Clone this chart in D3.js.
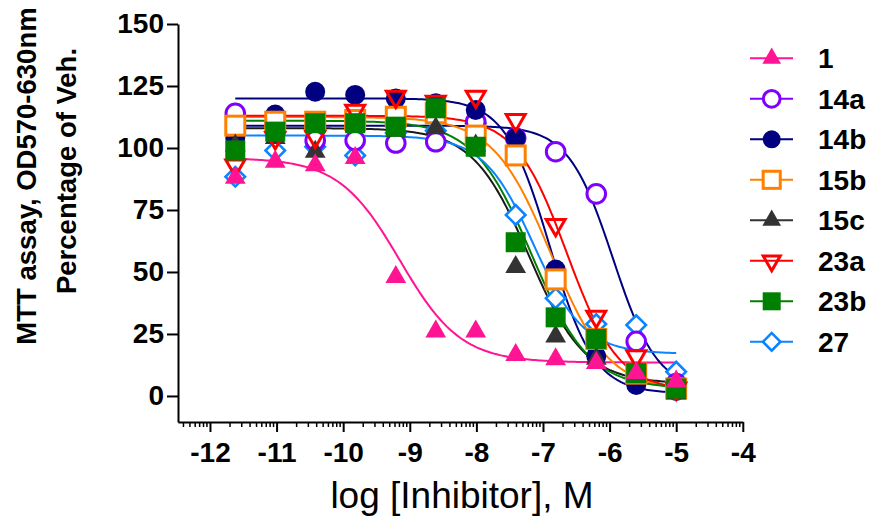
<!DOCTYPE html>
<html>
<head>
<meta charset="utf-8">
<script src="https://cdn.jsdelivr.net/npm/d3@7"></script>
<style>
  body { margin: 0; background: #fff; }
  svg { display: block; }
  text { font-family: "Liberation Sans", Arial, sans-serif; }
</style>
</head>
<body>
<svg id="chart" width="870" height="522"></svg>
<script>
// log10 of inhibitor concentration (M), 4-fold dilution series
const logConc = [-11.62, -11.02, -10.42, -9.82, -9.21, -8.61, -8.01, -7.41, -6.81, -6.20, -5.60, -5.00];

const seriesNames = ["1", "14a", "14b", "15b", "15c", "23a", "23b", "27"];

// MTT signal, percentage of vehicle, per compound
const cmpd1   = [88, 94.5, 93, 96, 48, 26, 26, 16.5, 14.8, 13.3, 9.3, 5.8];
const cmpd14a = [114, 110, 103, 103, 102, 102.5, 110.6, 104, 98.5, 81.5, 22, 5];
const cmpd14b = [104, 113.5, 122.7, 121.4, 120, 118, 115.3, 104, 51, 16, 4.4, 2];
const cmpd15b = [109, 110.6, 110.6, 111.3, 112.6, 114, 105, 97, 47, 23, 9, 3];
const cmpd15c = [101, 104, 98.5, 109, 107, 108, 101, 52, 24, 15, 8, 1];
const cmpd23a = [93, 104, 104.5, 115, 120.7, 118.7, 120.7, 111.3, 69, 32, 16, 3];
const cmpd23b = [99, 106.6, 110, 110, 108.6, 116, 100.5, 62, 31.7, 23, 9.2, 3];
const cmpd27  = [88.4, 99, 100.5, 97, 106, 107, 110, 73, 39.4, 29, 28.6, 9.8];
const seriesValues = [cmpd1, cmpd14a, cmpd14b, cmpd15b, cmpd15c, cmpd23a, cmpd23b, cmpd27];

// four-parameter logistic fits: top, bottom, logIC50, Hill slope
const fitTop     = [96, 109, 120, 112.5, 108, 113, 111, 105];
const fitBottom  = [13.5, 2, 1, 2, 5, 2, 3, 17];
const fitLogIC50 = [-9.15, -5.95, -6.9, -6.88, -7.21, -6.64, -7.17, -7.14];
const fitHill    = [0.95, 1.3, 1.3, 1.0, 1.03, 1.12, 1.0, 1.15];

const xTicks = [-12, -11, -10, -9, -8, -7, -6, -5, -4];
const yTicks = [0, 25, 50, 75, 100, 125, 150];

// styling per compound
const markerColor = ["#ff1493", "#8000ff", "#000080", "#ff8000", "#333333", "#ff0000", "#008000", "#0a84ff"];
const curveColor  = ["#ff1493", "#000080", "#000080", "#ff8000", "#1a1a1a", "#ff0000", "#008000", "#0a84ff"];
const markerKind  = ["triUp", "circleOpen", "circle", "squareOpen", "triUp", "triDownOpen", "square", "diamondOpen"];

const svg = d3.select("#chart");
const x = d3.scaleLinear().domain([-12.48, -4]).range([178, 742.8]);
const y = d3.scaleLinear().domain([-10.5, 150]).range([422, 24]);

// fitted curves
const logistic = (i, lx) => fitBottom[i] + (fitTop[i] - fitBottom[i]) / (1 + Math.pow(10, (lx - fitLogIC50[i]) * fitHill[i]));
const lo = d3.min(logConc), hi = d3.max(logConc);
const samples = d3.range(0, 201).map(k => lo + (hi - lo) * k / 200);
const line = d3.line().x(d => x(d[0])).y(d => y(d[1]));

const curves = svg.append("g").attr("fill", "none").attr("stroke-width", 2);
seriesNames.forEach((name, i) => {
  curves.append("path")
    .attr("d", line(samples.map(lx => [lx, logistic(i, lx)])))
    .attr("stroke", curveColor[i]);
});

// marker drawing
function drawMarker(g, kind, color, scale) {
  const s = scale || 1;
  if (kind === "triUp") {
    g.append("path").attr("d", d3.symbol(d3.symbolTriangle, 187 * s * s)()).attr("fill", color);
  } else if (kind === "circle") {
    g.append("circle").attr("r", 10 * s).attr("fill", color);
  } else if (kind === "circleOpen") {
    g.append("circle").attr("r", 9.3 * s).attr("fill", "#fff").attr("stroke", color).attr("stroke-width", 3);
  } else if (kind === "square") {
    g.append("rect").attr("x", -10 * s).attr("y", -10 * s).attr("width", 20 * s).attr("height", 20 * s).attr("fill", color);
  } else if (kind === "squareOpen") {
    g.append("rect").attr("x", -9.5 * s).attr("y", -9.5 * s).attr("width", 19 * s).attr("height", 19 * s)
      .attr("fill", "#fff").attr("stroke", color).attr("stroke-width", 3);
  } else if (kind === "triDownOpen") {
    g.append("path").attr("d", d3.symbol(d3.symbolTriangle, 155 * s * s)()).attr("transform", "rotate(180)")
      .attr("fill", "none").attr("stroke", color).attr("stroke-width", 3);
  } else if (kind === "diamondOpen") {
    g.append("path").attr("d", d3.symbol(d3.symbolSquare, 190 * s * s)()).attr("transform", "rotate(45)")
      .attr("fill", "#fff").attr("stroke", color).attr("stroke-width", 2.6);
  }
}

// data points; compound 27 sits at the back, compound 1 on top
const drawOrder = [7, 1, 2, 3, 4, 5, 6, 0];
const pts = svg.append("g");
drawOrder.forEach(i => {
  seriesValues[i].forEach((v, j) => {
    const g = pts.append("g").attr("transform", `translate(${x(logConc[j])},${y(v)})`);
    drawMarker(g, markerKind[i], markerColor[i]);
  });
});

// axes
const yAxis = svg.append("g").attr("transform", "translate(178,0)")
  .call(d3.axisLeft(y).tickValues(yTicks).tickSize(11).tickPadding(3).tickSizeOuter(0));
const xAxis = svg.append("g").attr("transform", "translate(0,422)")
  .call(d3.axisBottom(x).tickValues(xTicks).tickSize(10).tickPadding(10).tickSizeOuter(0)
    .tickFormat(d => String(d)));

[yAxis, xAxis].forEach(a => {
  a.select(".domain").attr("stroke", "#000").attr("stroke-width", 2);
  a.selectAll(".tick line").attr("stroke", "#000").attr("stroke-width", 2);
  a.selectAll(".tick text").attr("fill", "#000").style("font-size", "28px").style("font-weight", "bold");
});

// minor ticks on the log axis
const minor = [];
for (let d = -13; d < -4; d++) {
  for (let k = 2; k <= 9; k++) {
    const v = d + Math.log10(k);
    if (v >= x.domain()[0] && v <= x.domain()[1]) minor.push(v);
  }
}
xAxis.selectAll(".minor").data(minor).enter().append("line")
  .attr("class", "minor")
  .attr("x1", d => x(d)).attr("x2", d => x(d))
  .attr("y1", 0).attr("y2", 5)
  .attr("stroke", "#000").attr("stroke-width", 1.5);

// axis titles
svg.append("text")
  .attr("x", 462).attr("y", 508)
  .attr("text-anchor", "middle")
  .style("font-size", "37px")
  .text("log [Inhibitor], M");

const yTitle = svg.append("text")
  .attr("text-anchor", "middle")
  .style("font-size", "27.5px").style("font-weight", "bold");
yTitle.append("tspan").attr("x", -176).attr("y", 36).text("MTT assay, OD570-630nm");
yTitle.append("tspan").attr("x", -171).attr("y", 76).text("Percentage of Veh.");
yTitle.attr("transform", "rotate(-90)");

// legend
const legend = svg.append("g");
seriesNames.forEach((name, i) => {
  const row = legend.append("g").attr("transform", `translate(0,${58.3 + i * 40.5})`);
  row.append("line").attr("x1", 750).attr("x2", 793).attr("y1", 0).attr("y2", 0)
    .attr("stroke", markerColor[i]).attr("stroke-width", 2);
  drawMarker(row.append("g").attr("transform", "translate(771.7,0)"), markerKind[i], markerColor[i], 0.9);
  row.append("text").attr("x", 818).attr("y", 0).attr("dy", "0.36em")
    .style("font-size", "28px").style("font-weight", "bold").text(name);
});
</script>
</body>
</html>
